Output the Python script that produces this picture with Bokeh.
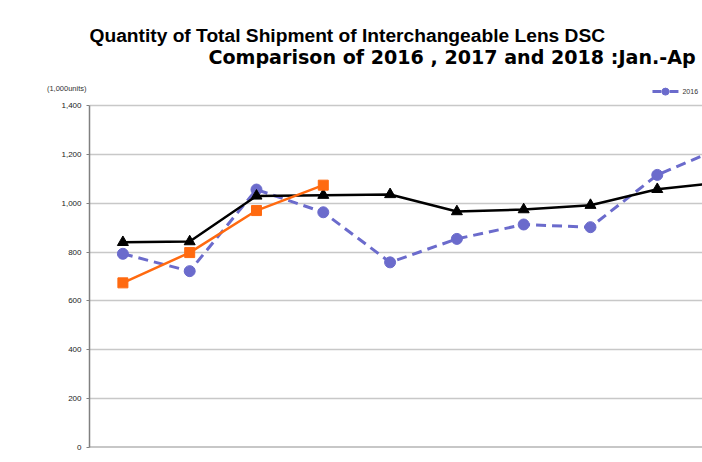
from bokeh.plotting import figure
from bokeh.models import Range1d, FixedTicker, NumeralTickFormatter, LinearAxis
from bokeh.core.properties import value
from bokeh.embed import file_html
from bokeh.resources import INLINE

s2016 = [793, 722, 1056, 963, 758, 854, 913, 902, 1116, 1232]
s2017 = [840, 843, 1030, 1033, 1036, 966, 974, 992, 1057, 1087]
s2018 = [674, 798, 970, 1074]
yticks = [0, 200, 400, 600, 800, 1000, 1200, 1400]
unit_tick = 1470
unit_text = "(1,000units)"
title1 = "Quantity of Total Shipment of Interchangeable Lens DSC"
title2 = "Comparison of 2016 , 2017 and 2018 :Jan.-Ap"

x16 = [i + 0.5 for i in range(len(s2016))]
x17 = [i + 0.5 for i in range(len(s2017))]
x18 = [i + 0.5 for i in range(len(s2018))]

p = figure(width=702, height=462, output_backend="svg", toolbar_location=None,
           x_range=Range1d(0, 9.177), y_range=Range1d(0, 1830),
           min_border_left=89, min_border_right=0, min_border_top=0, min_border_bottom=15)
p.outline_line_color = None

p.xaxis.visible = False
p.xgrid.visible = False

p.line(x=[0, 20], y=[0, 0], line_color="#909090", line_width=2)

p.yaxis.bounds = (0, 1400)
p.yaxis.ticker = FixedTicker(ticks=yticks)
p.yaxis.formatter = NumeralTickFormatter(format="0,0")
p.yaxis.axis_line_color = "#808080"
p.yaxis.axis_line_width = 1.5
p.yaxis.major_tick_line_color = "#808080"
p.yaxis.major_tick_out = 3
p.yaxis.major_tick_in = 0
p.yaxis.minor_tick_line_color = None
p.yaxis.major_label_text_font = "Liberation Sans"
p.yaxis.major_label_text_font_size = "8px"
p.yaxis.major_label_text_color = "#222222"
p.yaxis.major_label_standoff = 5
p.ygrid.ticker = FixedTicker(ticks=yticks)
p.ygrid.grid_line_color = "#c8c8c8"
p.ygrid.grid_line_width = 1.5

# units caption as an extra (line-less) axis label
ua = LinearAxis(ticker=FixedTicker(ticks=[unit_tick]),
                major_label_overrides={unit_tick: unit_text},
                axis_line_color=None, major_tick_line_color=None, minor_tick_line_color=None,
                major_tick_out=0, major_tick_in=0, major_label_standoff=-28,
                major_label_text_font="Liberation Sans", major_label_text_font_size="7.5px",
                major_label_text_color="#333333")
p.add_layout(ua, "left")

p.line(x16, s2016, line_color="#6b6bcc", line_width=3, line_dash="10 6")
p.scatter(x16, s2016, marker="circle", size=11, fill_color="#6b6bcc", line_color="#6b6bcc")
p.line(x17, s2017, line_color="black", line_width=2.5)
p.scatter(x17, s2017, marker="triangle", size=11, fill_color="black", line_color="black")
p.line(x18, s2018, line_color="#ff6a10", line_width=2.5)
p.scatter(x18, s2018, marker="square", size=10, fill_color="#ff6a10", line_color="#ff6a10")

# legend (only the 2016 entry is inside the visible area)
leg_y = 1457
p.line([8.428, 8.563], [leg_y, leg_y], line_color="#6b6bcc", line_width=3)
p.line([8.683, 8.817], [leg_y, leg_y], line_color="#6b6bcc", line_width=3)
p.scatter([8.623], [leg_y], marker="circle", size=7, fill_color="#6b6bcc", line_color="#6b6bcc")
p.text([8.877], [leg_y], text=["2016"], text_font_size="7px", text_baseline="middle",
       text_font=value("Liberation Sans"), text_color="#333333")

p.text([0.0], [1688], text=[title1],
       text_font=value("Liberation Sans"), text_font_style="bold", text_font_size="19.2px",
       text_color="black", text_baseline="alphabetic")
p.text([1.78], [1598], text=[title2],
       text_font=value("DejaVu Sans"), text_font_style="bold", text_font_size="19.1px",
       text_color="black", text_baseline="alphabetic")

open("out.html", "w").write(file_html(p, INLINE))
